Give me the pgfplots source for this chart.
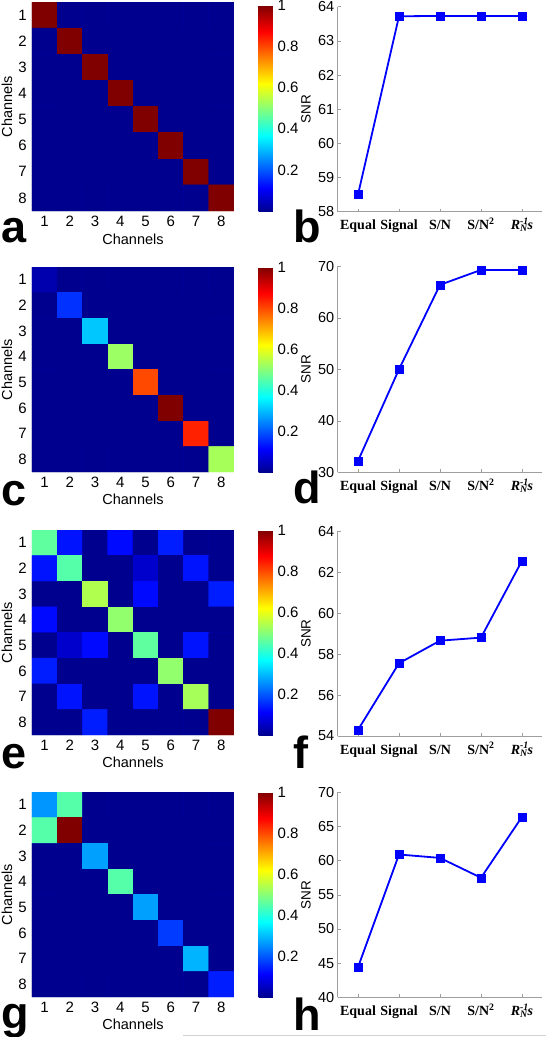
\documentclass[border=0pt]{standalone}
\usepackage{pgfplots}
\pgfplotsset{compat=1.18}
\usepackage{fontspec}
\setmainfont{Liberation Sans}
\newfontfamily\timesfont{Liberation Serif}
\pgfplotsset{
  colormap={mjet}{rgb(0pt)=(0,0,0.5625); rgb(7pt)=(0,0,1); rgb(23pt)=(0,1,1); rgb(39pt)=(1,1,0); rgb(55pt)=(1,0,0); rgb(63pt)=(0.5,0,0)},
  every axis/.append style={
    /pgf/number format/assume math mode=true,
    tick label style={font=\fontsize{15}{15}\selectfont, inner sep=0pt},
    label style={font=\fontsize{14.5}{15}\selectfont, inner sep=0pt},
  },
  heat/.style={
    anchor=south west, scale only axis, width=202pt,
    xmin=0.5, xmax=8.5, ymin=0.5, ymax=8.5, y dir=reverse, enlargelimits=false,
    xtick={1,...,8}, ytick={1,...,8},
    major tick length=0pt, axis line style={draw=none},
    axis background/.style={fill={rgb:red,0;green,0;blue,0.5625}},
    colormap name=mjet, point meta min=0, point meta max=1,
    xticklabel style={anchor=base, yshift=-15.5pt},
    yticklabel style={anchor=east, xshift=-5pt},
    xlabel={Channels}, ylabel={Channels},
    xlabel style={at={(axis description cs:0.5,-0.135)}, anchor=center},
    ylabel style={at={(axis description cs:-0.124,0.5)}, anchor=center},
    colorbar,
    colorbar style={
      at={(parent axis.south east)}, anchor=south west, xshift=16pt,
      scale only axis, width=16pt,
      ytick={0.2,0.4,0.6,0.8,1},
      major tick length=0pt, axis line style={draw=none},
      yticklabel style={anchor=west, xshift=3pt, inner sep=0pt},
    },
  },
  snr/.style={
    anchor=south west, scale only axis, width=205pt, height=205pt,
    xmin=0.5, xmax=5.5,
    axis x line*=bottom, axis y line*=left,
    axis line style={gray!75, line width=0.6pt},
    tick style={gray!75, line width=0.5pt}, major tick length=3pt, tick align=inside,
    xtick={1,...,5},
    xticklabels={Equal, Signal, S/N, S/N\textsuperscript{2}, {\itshape R\rlap{\textsuperscript{-1}}\textsubscript{N}s}},
    xticklabel style={font=\fontsize{14}{14}\selectfont\timesfont\bfseries, anchor=base, yshift=-18pt},
    yticklabel style={anchor=east, xshift=-3pt, font=\fontsize{14.5}{15}\selectfont},
    clip=false,
  },
  snrline/.style={blue, line width=1.8pt, mark=square*, mark size=4pt,
    mark options={solid, line width=0.4pt, fill=blue}},
}
\newcommand{\snrlabel}{\node[rotate=90, anchor=center, inner sep=0pt, font=\fontsize{13.5}{14}\selectfont] at (axis description cs:-0.154,0.5) {SNR};}
\begin{document}
\begin{tikzpicture}
\useasboundingbox (0pt,0pt) rectangle (546pt,-1037pt);

% ---------- a ----------
\begin{axis}[heat, at={(32pt,-211pt)}, height=209pt, colorbar style={height=205.5pt}]
\addplot[matrix plot*, mesh/cols=8, point meta=explicit] coordinates {
(1,1)[1] (2,1)[0] (3,1)[0] (4,1)[0] (5,1)[0] (6,1)[0] (7,1)[0] (8,1)[0]
(1,2)[0] (2,2)[1] (3,2)[0] (4,2)[0] (5,2)[0] (6,2)[0] (7,2)[0] (8,2)[0]
(1,3)[0] (2,3)[0] (3,3)[1] (4,3)[0] (5,3)[0] (6,3)[0] (7,3)[0] (8,3)[0]
(1,4)[0] (2,4)[0] (3,4)[0] (4,4)[1] (5,4)[0] (6,4)[0] (7,4)[0] (8,4)[0]
(1,5)[0] (2,5)[0] (3,5)[0] (4,5)[0] (5,5)[1] (6,5)[0] (7,5)[0] (8,5)[0]
(1,6)[0] (2,6)[0] (3,6)[0] (4,6)[0] (5,6)[0] (6,6)[1] (7,6)[0] (8,6)[0]
(1,7)[0] (2,7)[0] (3,7)[0] (4,7)[0] (5,7)[0] (6,7)[0] (7,7)[1] (8,7)[0]
(1,8)[0] (2,8)[0] (3,8)[0] (4,8)[0] (5,8)[0] (6,8)[0] (7,8)[0] (8,8)[1]
};
\end{axis}

% ---------- b ----------
\begin{axis}[snr, at={(337.5pt,-211.7pt)}, ymin=58, ymax=64, ytick={58,59,...,64}]
\addplot[snrline] coordinates {(1,58.5) (2,63.72) (3,63.73) (4,63.73) (5,63.73)};
\snrlabel
\end{axis}

% ---------- c ----------
\begin{axis}[heat, at={(32pt,-472pt)}, height=205pt]
\addplot[matrix plot*, mesh/cols=8, point meta=explicit] coordinates {
(1,1)[0.03] (2,1)[0] (3,1)[0] (4,1)[0] (5,1)[0] (6,1)[0] (7,1)[0] (8,1)[0]
(1,2)[0] (2,2)[0.16] (3,2)[0] (4,2)[0] (5,2)[0] (6,2)[0] (7,2)[0] (8,2)[0]
(1,3)[0] (2,3)[0] (3,3)[0.31] (4,3)[0] (5,3)[0] (6,3)[0] (7,3)[0] (8,3)[0]
(1,4)[0] (2,4)[0] (3,4)[0] (4,4)[0.52] (5,4)[0] (6,4)[0] (7,4)[0] (8,4)[0]
(1,5)[0] (2,5)[0] (3,5)[0] (4,5)[0] (5,5)[0.80] (6,5)[0] (7,5)[0] (8,5)[0]
(1,6)[0] (2,6)[0] (3,6)[0] (4,6)[0] (5,6)[0] (6,6)[1] (7,6)[0] (8,6)[0]
(1,7)[0] (2,7)[0] (3,7)[0] (4,7)[0] (5,7)[0] (6,7)[0] (7,7)[0.84] (8,7)[0]
(1,8)[0] (2,8)[0] (3,8)[0] (4,8)[0] (5,8)[0] (6,8)[0] (7,8)[0] (8,8)[0.53]
};
\end{axis}

% ---------- d ----------
\begin{axis}[snr, at={(337.5pt,-472.3pt)}, height=206pt, ymin=30, ymax=70, ytick={30,40,...,70}]
\addplot[snrline] coordinates {(1,32.2) (2,50.0) (3,66.4) (4,69.3) (5,69.3)};
\snrlabel
\end{axis}

% ---------- e ----------
\begin{axis}[heat, at={(32pt,-735pt)}, height=205pt]
\addplot[matrix plot*, mesh/cols=8, point meta=explicit] coordinates {
(1,1)[0.46] (2,1)[0.13] (3,1)[0] (4,1)[0.12] (5,1)[0] (6,1)[0.14] (7,1)[0] (8,1)[0]
(1,2)[0.13] (2,2)[0.45] (3,2)[0] (4,2)[0] (5,2)[0.06] (6,2)[0] (7,2)[0.13] (8,2)[0]
(1,3)[0] (2,3)[0] (3,3)[0.54] (4,3)[0] (5,3)[0.12] (6,3)[0] (7,3)[0] (8,3)[0.14]
(1,4)[0.12] (2,4)[0] (3,4)[0] (4,4)[0.51] (5,4)[0] (6,4)[0] (7,4)[0] (8,4)[0]
(1,5)[0] (2,5)[0.06] (3,5)[0.12] (4,5)[0] (5,5)[0.46] (6,5)[0] (7,5)[0.13] (8,5)[0]
(1,6)[0.14] (2,6)[0] (3,6)[0] (4,6)[0] (5,6)[0] (6,6)[0.51] (7,6)[0] (8,6)[0]
(1,7)[0] (2,7)[0.13] (3,7)[0] (4,7)[0] (5,7)[0.13] (6,7)[0] (7,7)[0.53] (8,7)[0]
(1,8)[0] (2,8)[0] (3,8)[0.14] (4,8)[0] (5,8)[0] (6,8)[0] (7,8)[0] (8,8)[1]
};
\end{axis}

% ---------- f ----------
\begin{axis}[snr, at={(337.5pt,-736pt)}, ymin=54, ymax=64, ytick={54,56,...,64}]
\addplot[snrline] coordinates {(1,54.3) (2,57.55) (3,58.65) (4,58.8) (5,62.55)};
\snrlabel
\end{axis}

% ---------- g ----------
\begin{axis}[heat, at={(32pt,-997pt)}, height=205pt]
\addplot[matrix plot*, mesh/cols=8, point meta=explicit] coordinates {
(1,1)[0.26] (2,1)[0.45] (3,1)[0] (4,1)[0] (5,1)[0] (6,1)[0] (7,1)[0] (8,1)[0]
(1,2)[0.45] (2,2)[1] (3,2)[0] (4,2)[0] (5,2)[0] (6,2)[0] (7,2)[0] (8,2)[0]
(1,3)[0] (2,3)[0] (3,3)[0.27] (4,3)[0] (5,3)[0] (6,3)[0] (7,3)[0] (8,3)[0]
(1,4)[0] (2,4)[0] (3,4)[0] (4,4)[0.45] (5,4)[0] (6,4)[0] (7,4)[0] (8,4)[0]
(1,5)[0] (2,5)[0] (3,5)[0] (4,5)[0] (5,5)[0.27] (6,5)[0] (7,5)[0] (8,5)[0]
(1,6)[0] (2,6)[0] (3,6)[0] (4,6)[0] (5,6)[0] (6,6)[0.17] (7,6)[0] (8,6)[0]
(1,7)[0] (2,7)[0] (3,7)[0] (4,7)[0] (5,7)[0] (6,7)[0] (7,7)[0.29] (8,7)[0]
(1,8)[0] (2,8)[0] (3,8)[0] (4,8)[0] (5,8)[0] (6,8)[0] (7,8)[0] (8,8)[0.14]
};
\end{axis}

% ---------- h ----------
\begin{axis}[snr, at={(337.5pt,-997.3pt)}, ymin=40, ymax=70, ytick={40,45,...,70}]
\addplot[snrline] coordinates {(1,44.4) (2,60.9) (3,60.4) (4,57.5) (5,66.4)};
\snrlabel
\end{axis}

% panel letters
\begin{scope}[every node/.style={anchor=base west, inner sep=0pt, font=\fontsize{45}{45}\selectfont\bfseries}]
\node at (1pt,-242pt) {a};
\node at (293pt,-242pt) {b};
\node at (1pt,-505pt) {c};
\node at (293pt,-503pt) {d};
\node at (1pt,-768pt) {e};
\node at (293pt,-768pt) {f};
\node at (1pt,-1028pt) {g};
\node at (293pt,-1030pt) {h};
\end{scope}
\draw[gray!35, line width=1pt] (183pt,-1035.5pt) -- (546pt,-1035.5pt);
\end{tikzpicture}
\end{document}
